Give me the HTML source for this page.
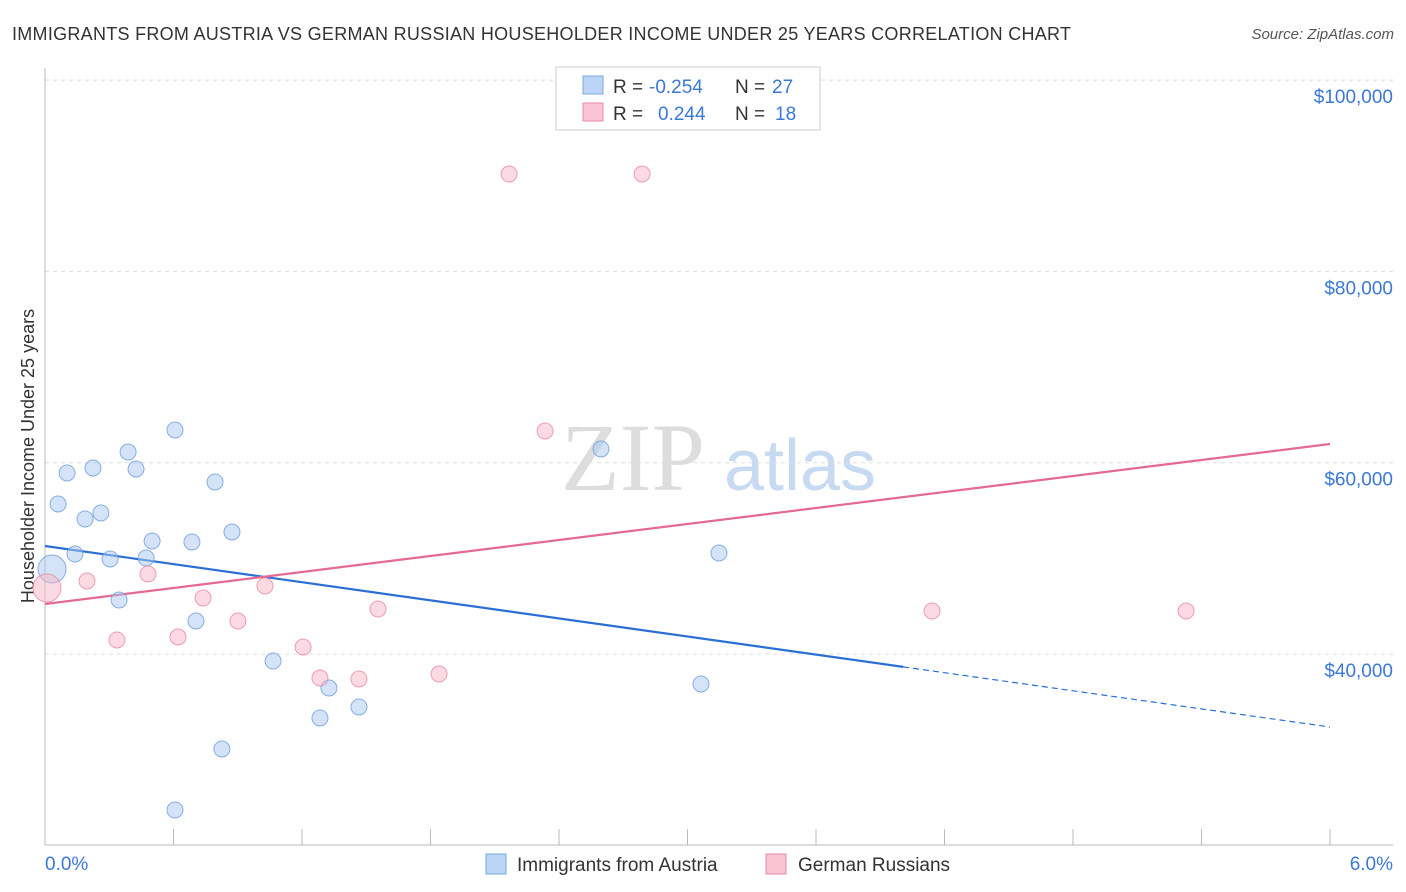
<!DOCTYPE html>
<html><head><meta charset="utf-8"><style>
body{margin:0;background:#fff;font-family:"Liberation Sans",sans-serif;}
#wrap{position:relative;width:1406px;height:892px;overflow:hidden;}
</style></head><body>
<div id="wrap">
<svg id="svg" width="1406" height="892" xmlns="http://www.w3.org/2000/svg">
<text x="12" y="40" font-size="18" fill="#333" textLength="1059" lengthAdjust="spacing">IMMIGRANTS FROM AUSTRIA VS GERMAN RUSSIAN HOUSEHOLDER INCOME UNDER 25 YEARS CORRELATION CHART</text>
<text x="1394" y="39" font-size="15" fill="#555" font-style="italic" text-anchor="end">Source: ZipAtlas.com</text>
<text x="633" y="490" font-size="96" fill="#ddd" font-family="Liberation Serif" text-anchor="middle">ZIP</text>
<text x="800" y="490" font-size="72" fill="#c8daf2" text-anchor="middle">atlas</text>
<text transform="translate(34,456) rotate(-90)" font-size="18" fill="#333" text-anchor="middle">Householder Income Under 25 years</text>
<g id="grid"></g><g id="axes"></g><g id="lines"></g><g id="pts"></g>
<g>
<rect x="556" y="67" width="264" height="63" fill="#fff" stroke="#ccc"/>
<rect x="583" y="76" width="20" height="18" fill="#bcd4f5" stroke="#7aa7e0"/>
<rect x="583" y="103" width="20" height="18" fill="#f9c3d3" stroke="#e88aa8"/>
<text x="613" y="93" font-size="19" fill="#333">R =</text>
<text x="649" y="93" font-size="19" fill="#3b78d8">-0.254</text>
<text x="735" y="93" font-size="19" fill="#333">N =</text>
<text x="772" y="93" font-size="19" fill="#3b78d8">27</text>
<text x="613" y="120" font-size="19" fill="#333">R =</text>
<text x="658" y="120" font-size="19" fill="#3b78d8">0.244</text>
<text x="735" y="120" font-size="19" fill="#333">N =</text>
<text x="775" y="120" font-size="19" fill="#3b78d8">18</text>
</g>
<g>
<rect x="486" y="854" width="20" height="20" fill="#bcd4f5" stroke="#7aa7e0"/>
<text x="517" y="871" font-size="19" fill="#333">Immigrants from Austria</text>
<rect x="766" y="854" width="20" height="20" fill="#f9c3d3" stroke="#e88aa8"/>
<text x="798" y="871" font-size="19" fill="#333">German Russians</text>
</g>
</svg>
<script>
const blueX=[0.033,0.061,0.103,0.224,0.388,0.425,0.607,0.187,0.261,0.140,0.304,0.472,0.500,0.346,0.686,0.794,0.873,0.705,1.065,1.326,1.284,1.466,0.826,0.607,2.596,3.147,3.063];
const blueY=[48887,55683,58924,59446,61119,59342,63419,54114,54742,50455,49932,50037,51814,45646,51710,57983,52755,43450,39268,36445,33309,34459,30068,23690,61433,50560,36863];
const pinkX=[0.009,0.196,0.481,0.336,0.621,0.738,0.901,1.027,1.205,1.284,1.466,1.555,1.840,2.167,2.788,2.335,4.142,5.328];
const pinkY=[46900,47632,48364,41464,41777,45855,43450,47109,40732,37491,37386,44705,37909,90182,90182,63314,44496,44496];
const blueTrend=[51291,32368];
const pinkTrend=[45228,61955];
const yTicks=[40000,60000,80000,100000];
const yTickLabels=["$40,000","$60,000","$80,000","$100,000"];
const xLabels=["0.0%","6.0%"];
const NS="http://www.w3.org/2000/svg";
const sx=v=>45+v/6*1285;
const sy=v=>654-(v-40000)*191.3/20000;
function mk(tag,attrs,parent){const e=document.createElementNS(NS,tag);for(const k in attrs)e.setAttribute(k,attrs[k]);document.getElementById(parent).appendChild(e);return e;}
yTicks.forEach((t,i)=>{
 const g=mk('line',{x1:45,x2:1393,y1:sy(t),y2:sy(t),stroke:'#ddd','stroke-dasharray':'4,4'},'grid');
 
 
 const l=mk('text',{x:1393,y:sy(t)+23,'font-size':19,fill:'#3b78d8','text-anchor':'end'},'grid');
 l.textContent=yTickLabels[i];
 
 
});
const ax=mk('line',{x1:45,x2:1393,y1:845,y2:845,stroke:'#bbb'},'axes');


const ay=mk('line',{x1:45,x2:45,y1:68,y2:845,stroke:'#bbb'},'axes');


for(let i=0;i<=10;i++){const t=mk('line',{x1:sx(i*0.6),x2:sx(i*0.6),y1:829,y2:845,stroke:'#bbb'},'axes');
 
 }
const xl0=mk('text',{x:45,y:870,'font-size':19,fill:'#3b78d8'},'axes');xl0.textContent=xLabels[0];


const xl1=mk('text',{x:1393,y:870,'font-size':19,fill:'#3b78d8','text-anchor':'end'},'axes');xl1.textContent=xLabels[1];


const bAt=x=>blueTrend[0]+(blueTrend[1]-blueTrend[0])*x/6;
const b1=mk('line',{x1:sx(0),y1:sy(bAt(0)),x2:sx(4.007),y2:sy(bAt(4.007)),stroke:'#2a6fd6','stroke-width':2.2},'lines');


const b2=mk('line',{x1:sx(4.007),y1:sy(bAt(4.007)),x2:sx(6),y2:sy(bAt(6)),stroke:'#2a6fd6','stroke-width':1.2,'stroke-dasharray':'6,4'},'lines');


const p1=mk('line',{x1:sx(0),y1:sy(pinkTrend[0]),x2:sx(6),y2:sy(pinkTrend[1]),stroke:'#e46a95','stroke-width':2.2},'lines');


function pts(X,Y,fill,stroke,name){X.forEach((x,i)=>{const c=mk('circle',{cx:sx(x),cy:sy(Y[i]),r:i==0?14:8,fill:fill,'fill-opacity':0.5,stroke:stroke,'stroke-width':1,'stroke-opacity':0.8},'pts');
 
 });}
pts(blueX,blueY,'#a9c8f0','#6f9fdc','austria-point');
pts(pinkX,pinkY,'#f7b6c9','#e88aa8','german-russian-point');
</script>
</div></body></html>
